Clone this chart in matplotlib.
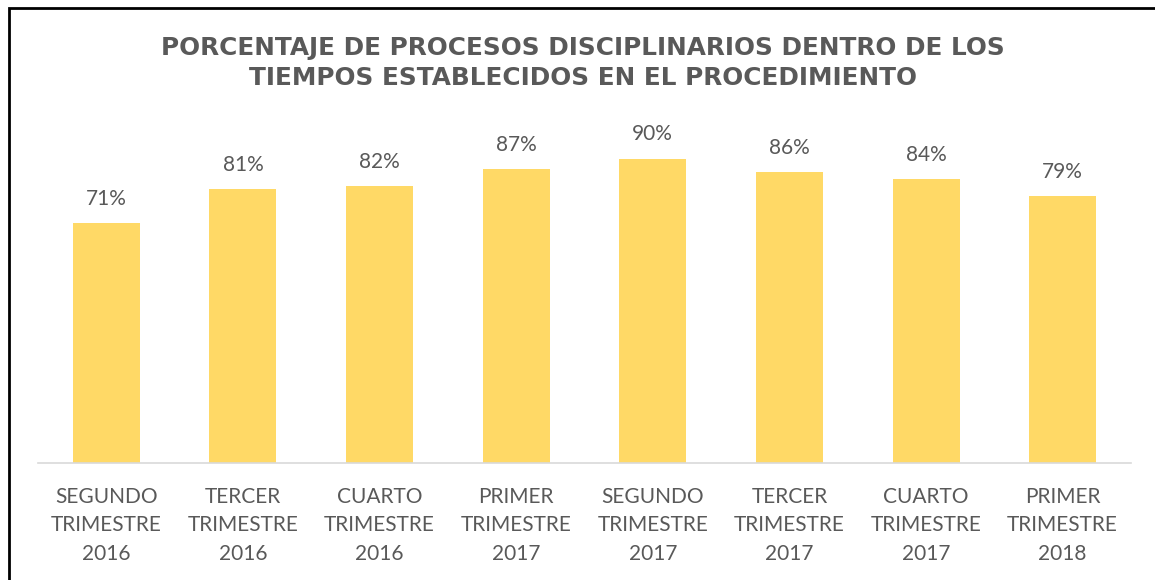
import matplotlib
matplotlib.use("Agg")
import matplotlib.pyplot as plt
from matplotlib.patches import Rectangle

# data --------------------------------------------------
periodos = ["SEGUNDO\nTRIMESTRE\n2016", "TERCER\nTRIMESTRE\n2016", "CUARTO\nTRIMESTRE\n2016",
            "PRIMER\nTRIMESTRE\n2017", "SEGUNDO\nTRIMESTRE\n2017", "TERCER\nTRIMESTRE\n2017",
            "CUARTO\nTRIMESTRE\n2017", "PRIMER\nTRIMESTRE\n2018"]
porcentajes = [71, 81, 82, 87, 90, 86, 84, 79]
titulo = "PORCENTAJE DE PROCESOS DISCIPLINARIOS DENTRO DE LOS\nTIEMPOS ESTABLECIDOS EN EL PROCEDIMIENTO"

gris = "#595959"
amarillo = "#FFD966"

fig = plt.figure(figsize=(11.55, 5.8), dpi=100)
ax = fig.add_axes([0.0329, 0.2017, 0.9463, 0.5828])

x = range(len(periodos))
barras = ax.bar(x, porcentajes, width=0.49, color=amarillo)
for b, v in zip(barras, porcentajes):
    ax.annotate(f"{v}%", (b.get_x() + b.get_width() / 2, v), xytext=(0, 17.5),
                textcoords="offset points", ha="center", va="center",
                fontsize=15, color=gris, family="Lato")

ax.set_xlim(-0.5, len(periodos) - 0.5)
ax.set_ylim(0, 100)
ax.set_yticks([])
ax.set_xticks(list(x))
ax.set_xticklabels(periodos, fontsize=15, color=gris, family="Lato", linespacing=1.55)
ax.tick_params(axis="x", length=0, pad=17)
for s in ["top", "right", "left"]:
    ax.spines[s].set_visible(False)
ax.spines["bottom"].set_color("#D9D9D9")
ax.spines["bottom"].set_linewidth(1.2)

fig.text(0.505, 0.891, titulo, ha="center", va="center", fontsize=17.8, fontweight="bold",
         color=gris, linespacing=1.3)

# chart border (only left and top visible in the crop)
fig.patches.append(Rectangle((9 / 1155, -0.1), 1.2, 1.1 - 8 / 580, transform=fig.transFigure,
                             fill=False, edgecolor="black", linewidth=2))

fig.savefig("out.png", dpi=100)
